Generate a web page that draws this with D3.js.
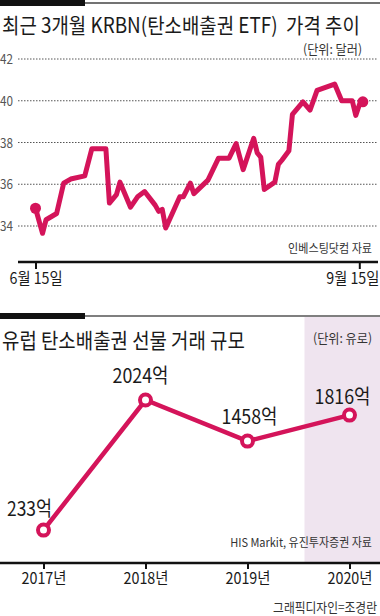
<!DOCTYPE html>
<html><head><meta charset="utf-8">
<script src="https://cdn.jsdelivr.net/npm/d3@7"></script>
<style>
body{margin:0;background:#fff}
svg{display:block}
text{font-family:"Noto Sans CJK KR","Noto Sans",sans-serif;white-space:pre}
</style>
</head><body>
<svg id="c" width="380" height="616"></svg>
<script>
// ---- data: KRBN price (USD), last 3 months ----
const priceDates = ["2020-06-15","2020-06-17","2020-06-18","2020-06-21","2020-06-23","2020-06-25","2020-06-29",
  "2020-07-01","2020-07-05","2020-07-06","2020-07-08","2020-07-09","2020-07-12","2020-07-14","2020-07-16",
  "2020-07-19","2020-07-20","2020-07-21","2020-07-22","2020-07-26","2020-07-27","2020-07-29","2020-07-30",
  "2020-08-03","2020-08-06","2020-08-09","2020-08-11","2020-08-13","2020-08-16","2020-08-17","2020-08-18",
  "2020-08-19","2020-08-22","2020-08-23","2020-08-24","2020-08-26","2020-08-27","2020-08-30","2020-09-01",
  "2020-09-03","2020-09-08","2020-09-10","2020-09-13","2020-09-14","2020-09-15","2020-09-16"];
const priceValues = [34.85,33.65,34.3,34.6,36.05,36.25,36.4,
  37.7,37.7,35.1,35.5,36.1,34.9,35.4,35.65,
  35.0,34.7,34.8,33.9,35.4,35.4,36.05,35.55,
  36.2,37.25,37.25,37.95,36.7,38.2,37.5,37.3,
  35.75,36.1,36.95,37.15,37.6,39.35,39.95,39.55,
  40.5,40.8,40.0,40.0,39.3,39.8,39.95];
const priceTicks = [42,40,38,36,34];
const dateTicks = ["2020-06-15","2020-09-15"];
const dateTickLabels = ["6월 15일","9월 15일"];

// ---- data: EU carbon futures trading volume (억 유로) ----
const years = ["2017년","2018년","2019년","2020년"];
const volumes = [233,2024,1458,1816];
const volumeLabels = ["233억","2024억","1458억","1816억"];

const PINK = "#d4145a";
const svg = d3.select("#c");
const parse = d3.timeParse("%Y-%m-%d");

// text condensed horizontally to a target width via transform
function txt(g, x, y, s, size, opts = {}) {
  const anchor = opts.anchor || "start";
  const wrap = g.append("g");
  const t = wrap.append("text").attr("x", 0).attr("y", 0).text(s)
    .attr("font-size", size).attr("fill", opts.fill || "#222")
    .attr("text-anchor", anchor);
  let sx = 1;
  if (opts.len) {
    const w = t.node().getComputedTextLength();
    if (w > 0) sx = opts.len / w;
  }
  wrap.attr("transform", `translate(${x},${y}) scale(${sx},1)`);
  return t;
}
function condense(sel, len) {
  sel.each(function () {
    const w = this.getComputedTextLength();
    const sx = w > 0 ? len / w : 1;
    const dx = +d3.select(this).attr("data-dx") || 0;
    d3.select(this).attr("transform", `translate(${dx},0) scale(${sx},1)`);
  });
}

// ===== section 1 =====
svg.append("rect").attr("x", 0).attr("y", 0).attr("width", 85).attr("height", 6).attr("fill", "#111");
svg.append("line").attr("x1", 85).attr("x2", 380).attr("y1", 3).attr("y2", 3).attr("stroke", "#444").attr("stroke-width", 1.5);
txt(svg, 2, 33, "최근 3개월 KRBN(탄소배출권 ETF)  가격 추이", 21, {len: 358, fill: "#1a1a1a"});
txt(svg, 362, 54, "(단위: 달러)", 13, {anchor: "end", len: 59, fill: "#333"});

const x1 = d3.scaleTime().domain([parse("2020-06-15"), parse("2020-09-15")]).range([35.5, 359.3]);
const y1 = d3.scaleLinear().domain([34, 42]).range([226, 59]);

const g1 = svg.append("g");
priceTicks.forEach(v => {
  g1.append("line").attr("x1", 18).attr("x2", 378).attr("y1", y1(v)).attr("y2", y1(v))
    .attr("stroke", "#555").attr("stroke-width", 1).attr("stroke-dasharray", "1.5,1.5");
  txt(g1, 0, y1(v) + 5, String(v), 13, {fill: "#555", len: 13});
});

const pts = priceDates.map((d, i) => [parse(d), priceValues[i]]);
g1.append("path").datum(pts)
  .attr("d", d3.line().x(d => x1(d[0])).y(d => y1(d[1])))
  .attr("fill", "none").attr("stroke", PINK).attr("stroke-width", 5).attr("stroke-linejoin", "round");
[pts[0], pts[pts.length - 1]].forEach(p => {
  g1.append("circle").attr("cx", x1(p[0])).attr("cy", y1(p[1])).attr("r", 5.5).attr("fill", PINK);
});

txt(svg, 372, 253, "인베스팅닷컴 자료", 12, {anchor: "end", fill: "#333", len: 84});

const ax1 = svg.append("g").attr("transform", "translate(0,262)")
  .call(d3.axisBottom(x1).tickValues(dateTicks.map(parse)).tickSize(7)
    .tickFormat((d, i) => dateTickLabels[i]));
ax1.select(".domain").remove();
ax1.selectAll(".tick line").attr("stroke", "#111").attr("stroke-width", 2);
ax1.selectAll(".tick text").attr("font-size", 16).attr("fill", "#1a1a1a").attr("y", 11)
  .attr("font-family", "\"Noto Sans CJK KR\",sans-serif")
  .attr("data-dx", (d, i) => i === dateTicks.length - 1 ? -7 : 0)
  .call(condense, 53);
svg.append("line").attr("x1", 18).attr("x2", 378).attr("y1", 262).attr("y2", 262)
  .attr("stroke", "#111").attr("stroke-width", 2.5);

// ===== section 2 =====
const x2 = d3.scalePoint().domain(years).range([43.5, 349.5]);
const y2 = d3.scaleLinear().domain([0, 2024]).range([547, 400]);

svg.append("rect").attr("x", x2(years[3]) - 45).attr("y", 317).attr("width", 380 - (x2(years[3]) - 45))
  .attr("height", 563 - 317).attr("fill", "#efe4ef");
svg.append("rect").attr("x", 0).attr("y", 313).attr("width", 85).attr("height", 6).attr("fill", "#111");
svg.append("line").attr("x1", 85).attr("x2", 380).attr("y1", 316).attr("y2", 316).attr("stroke", "#555").attr("stroke-width", 1.5);
txt(svg, 2, 348, "유럽 탄소배출권 선물 거래 규모", 21, {len: 243, fill: "#1a1a1a"});
txt(svg, 372, 343, "(단위: 유로)", 13, {anchor: "end", len: 59, fill: "#333"});

const g2 = svg.append("g");
g2.append("path").datum(volumes)
  .attr("d", d3.line().x((d, i) => x2(years[i])).y(d => y2(d)))
  .attr("fill", "none").attr("stroke", PINK).attr("stroke-width", 4.5);
volumes.forEach((v, i) => {
  g2.append("circle").attr("cx", x2(years[i])).attr("cy", y2(v)).attr("r", 5.5)
    .attr("fill", "#fff").attr("stroke", PINK).attr("stroke-width", 4);
});
const labelDx = [-14, -5, 2, -7];
const labelDy = [-14, -17, -17, -11];
volumes.forEach((v, i) => {
  txt(g2, x2(years[i]) + labelDx[i], y2(v) + labelDy[i], volumeLabels[i], 20,
    {anchor: "middle", len: i === 0 ? 45 : 56, fill: "#1a1a1a"});
});

txt(svg, 372, 547, "HIS Markit, 유진투자증권 자료", 12, {anchor: "end", fill: "#333", len: 142});

const ax2 = svg.append("g").attr("transform", "translate(0,563)")
  .call(d3.axisBottom(x2).tickSize(6));
ax2.select(".domain").remove();
ax2.selectAll(".tick line").attr("stroke", "#111").attr("stroke-width", 2);
ax2.selectAll(".tick text").attr("font-size", 16).attr("fill", "#1a1a1a").attr("y", 10)
  .attr("font-family", "\"Noto Sans CJK KR\",sans-serif")
  .call(condense, 45);
svg.append("line").attr("x1", 0).attr("x2", 380).attr("y1", 563).attr("y2", 563)
  .attr("stroke", "#111").attr("stroke-width", 2.5);

txt(svg, 377, 612, "그래픽디자인=조경란", 13, {anchor: "end", fill: "#333", len: 104});
</script>
</body></html>
